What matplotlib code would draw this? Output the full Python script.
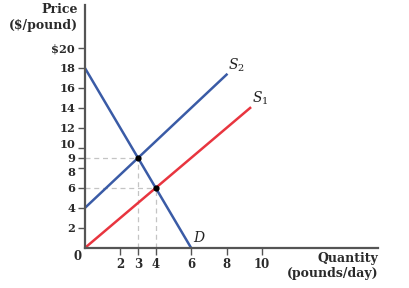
import matplotlib
matplotlib.use("Agg")
import matplotlib.pyplot as plt
import matplotlib.transforms as mtransforms
import numpy as np

# Data
demand_q = [0, 6]
demand_p = [18, 0]
s1_q = [0, 9.33]
s1_p = [0, 14]
s2_q = [0, 8.0]
s2_p = [4, 17.33]
eq_q = [3, 4]
eq_p = [9, 6]
xticks = [2, 3, 4, 6, 8, 10]
yticks = [2, 4, 6, 8, 9, 10, 12, 14, 16, 18, 20]
ytick_labels = ["2", "4", "6", "8", "9", "10", "12", "14", "16", "18", "$20"]

plt.rcParams['font.family'] = ['DejaVu Serif']
plt.rcParams['mathtext.fontset'] = 'dejavuserif'
fig = plt.figure(figsize=(4.1, 2.88), dpi=100)
ax = fig.add_axes([0.207, 0.139, 0.715, 0.844])
ax.set_xlim(0, 16.55)
ax.set_ylim(0, 24.3)

axcol = "#555555"
for s in ["top", "right"]:
    ax.spines[s].set_visible(False)
for s in ["left", "bottom"]:
    ax.spines[s].set_color(axcol)
    ax.spines[s].set_linewidth(1.6)

blue = "#3a5ba6"
red = "#e8353f"
dash = "#c4c4c4"

# dashed guides
for q, p in zip(eq_q, eq_p):
    ax.plot([0, q], [p, p], color=dash, lw=0.9, ls=(0, (4, 3)), zorder=1)
    ax.plot([q, q], [0, p], color=dash, lw=0.9, ls=(0, (4, 3)), zorder=1)

ax.plot(demand_q, demand_p, color=blue, lw=1.8, zorder=2)
ax.plot(s2_q, s2_p, color=blue, lw=1.8, zorder=2)
ax.plot(s1_q, s1_p, color=red, lw=1.8, zorder=2)
ax.scatter(eq_q, eq_p, s=12, color="black", zorder=3)

tc = "#2a2a2a"
ax.set_xticks(xticks)
ax.set_xticklabels([str(t) for t in xticks], fontsize=8.5, fontweight="bold", color=tc)
ax.set_yticks(yticks)
ax.set_yticklabels(ytick_labels, fontsize=8.2, fontweight="bold", color=tc)
ax.tick_params(axis="both", direction="out", length=5, width=1, color=axcol, pad=2)

# nudge crowded labels 8 and 10 apart, as in the reference
for lab, val in zip(ax.get_yticklabels(), yticks):
    if val == 10:
        lab.set_transform(lab.get_transform() + mtransforms.ScaledTranslation(0, 3.5 / 72, fig.dpi_scale_trans))
    elif val == 8:
        lab.set_transform(lab.get_transform() + mtransforms.ScaledTranslation(0, -2.5 / 72, fig.dpi_scale_trans))

ax.text(8.0 + 0.1, 17.33 + 0.1, r"$S_2$", fontsize=10, color="#222222", va="bottom", ha="left")
ax.text(9.33 + 0.1, 14 + 0.1, r"$S_1$", fontsize=10, color="#222222", va="bottom", ha="left")
ax.text(6.0 + 0.1, 0.3, r"$D$", fontsize=10, color="#222222", va="bottom", ha="left")

fig.text(0.19, 0.108, "0", fontsize=8.5, fontweight="bold", color=tc, ha="center", va="center")
fig.text(0.19, 0.99, "Price\n($/pound)", fontsize=9, fontweight="bold", color=tc,
         ha="right", va="top", linespacing=1.3)
fig.text(0.922, 0.125, "Quantity\n(pounds/day)", fontsize=9, fontweight="bold", color=tc,
         ha="right", va="top", linespacing=1.15)

fig.savefig("out.png", dpi=100)
